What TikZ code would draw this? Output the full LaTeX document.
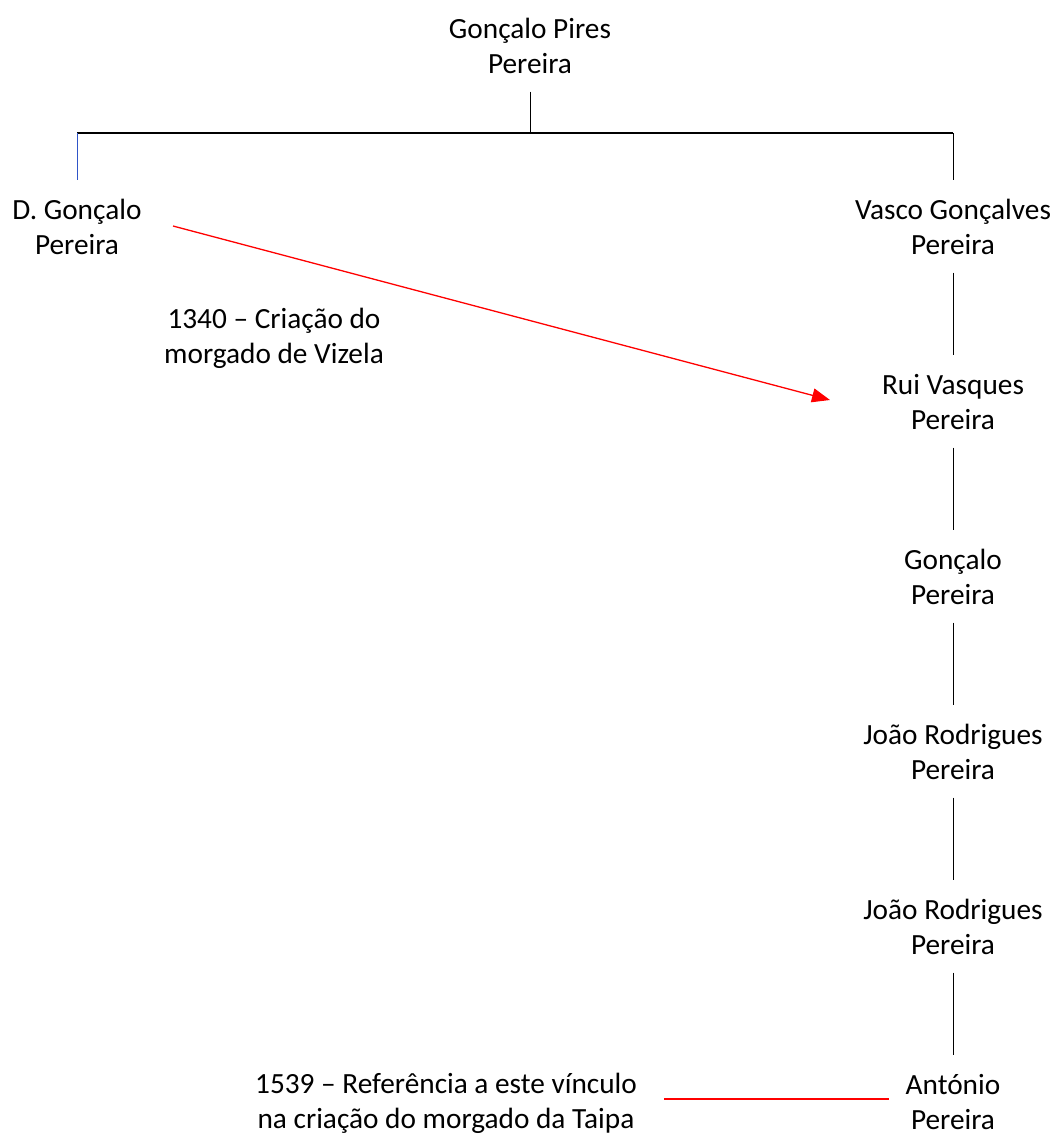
\documentclass[tikz,border=0pt]{standalone}
\usepackage{fontspec}
\setmainfont{Carlito}
\usetikzlibrary{arrows.meta}
\definecolor{linkblue}{RGB}{47,85,200}
\definecolor{pureRed}{RGB}{255,0,0}
\newcommand\persontext[2]{\rule{0pt}{39pt}#1\\#2\rule[-18pt]{0pt}{18pt}}
\tikzset{
  person/.style={align=center, inner sep=0pt, anchor=north, font=\fontsize{29.3}{35.3}\selectfont},
  link/.style={line width=1pt, black},
  redlink/.style={line width=1.3pt, pureRed},
}
\begin{document}
\begin{tikzpicture}[x=1pt,y=-1pt]
\useasboundingbox (0,0) rectangle (1057,1135);
% people
\node[person] (gpp) at (530,-1) {\persontext{Gonçalo Pires}{Pereira}};
\node[person] (dg)  at (77,180) {\persontext{D. Gonçalo}{Pereira}};
\node[person] (vgp) at (953,180) {\persontext{Vasco Gonçalves}{Pereira}};
\node[person] (rvp) at (953,355) {\persontext{Rui Vasques}{Pereira}};
\node[person] (gp)  at (953,530) {\persontext{Gonçalo}{Pereira}};
\node[person] (jr1) at (953,705) {\persontext{João Rodrigues}{Pereira}};
\node[person] (jr2) at (953,880) {\persontext{João Rodrigues}{Pereira}};
\node[person] (ap)  at (953,1055) {\persontext{António}{Pereira}};
% notes
\node[person] (n1340) at (274,289) {\persontext{1340 – Criação do}{morgado de Vizela}};
\node[person] (n1539) at (446,1054) {\persontext{1539 – Referência a este vínculo}{na criação do morgado da Taipa}};
% family tree
\coordinate (junc) at (530,133);
\draw[link] (gpp.south) -- (junc);
\draw[line width=1.3pt] (dg.north |- junc) -- (vgp.north |- junc);
\draw[line width=1pt, linkblue] (dg.north |- junc) -- (dg.north);
\draw[link] (vgp.north |- junc) -- (vgp.north);
\draw[link] (vgp.south) -- (rvp.north);
\draw[link] (rvp.south) -- (gp.north);
\draw[link] (gp.south) -- (jr1.north);
\draw[link] (jr1.south) -- (jr2.north);
\draw[link] (jr2.south) -- (ap.north);
% red links
\coordinate (arrS) at (173,226);
\coordinate (arrE) at (830,400);
\draw[redlink, -{Triangle[length=18pt,width=14pt]}] (arrS) -- (arrE);
\coordinate (refS) at (664,1099);
\coordinate (refE) at (889,1099);
\draw[redlink] (refS) -- (refE);
\end{tikzpicture}
\end{document}
